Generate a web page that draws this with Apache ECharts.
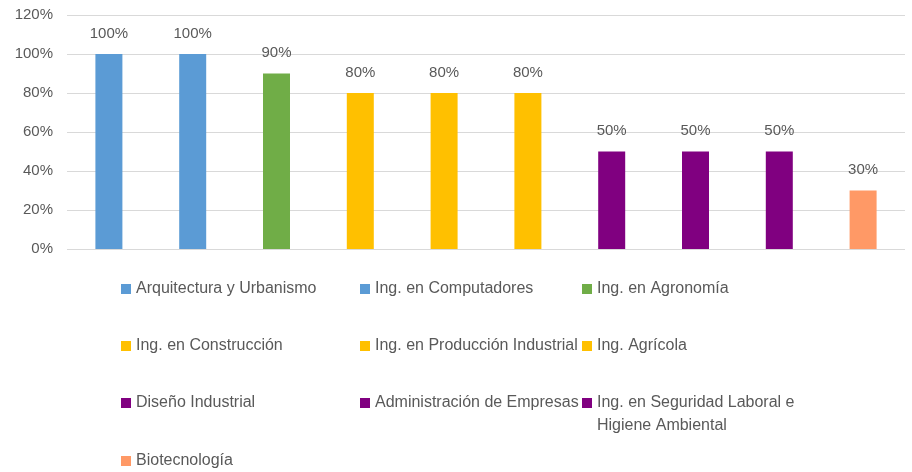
<!DOCTYPE html>
<html>
<head>
<meta charset="utf-8">
<script src="https://cdn.jsdelivr.net/npm/echarts@6/dist/echarts.min.js"></script>
<style>
  html, body { margin: 0; padding: 0; background: #fff; }
  #chart { width: 912px; height: 472px; }
</style>
</head>
<body>
<div id="chart"></div>
<script>
// datos del gráfico
var careers = [
  'Arquitectura y Urbanismo', 'Ing. en Computadores', 'Ing. en Agronomía',
  'Ing. en Construcción', 'Ing. en Producción Industrial', 'Ing. Agrícola',
  'Diseño Industrial', 'Administración de Empresas',
  'Ing. en Seguridad Laboral e Higiene Ambiental', 'Biotecnología'
];
var percents = [100, 100, 90, 80, 80, 80, 50, 50, 50, 30];
var barColors = ['#5B9BD5', '#5B9BD5', '#70AD47', '#FFC000', '#FFC000', '#FFC000',
                 '#800080', '#800080', '#800080', '#FF9966'];
var yTicks = { min: 0, max: 120, step: 20 };

var textColor = '#595959';
var fontFam = 'Liberation Sans, Arial, sans-serif';

// posiciones de la leyenda (3 columnas)
var legendCols = [121, 360, 582];
var legendRows = [279, 336, 393, 451];

var chart = echarts.init(document.getElementById('chart'));

var series = careers.map(function (name, i) {
  var data = careers.map(function (c, j) { return j === i ? percents[i] : '-'; });
  return {
    name: name,
    type: 'bar',
    stack: 'all',
    barWidth: 27,
    itemStyle: { color: barColors[i] },
    label: {
      show: true,
      position: 'top',
      distance: 13,
      formatter: '{c}%',
      color: textColor,
      fontSize: 15,
      fontFamily: fontFam
    },
    data: data
  };
});

var legends = careers.map(function (name, i) {
  var lg = {
    data: [name],
    left: legendCols[i % 3],
    top: legendRows[Math.floor(i / 3)],
    icon: 'rect',
    itemWidth: 10,
    itemHeight: 10,
    itemGap: 0,
    padding: 0,
    selectedMode: false,
    textStyle: { color: textColor, fontSize: 16, fontFamily: fontFam, lineHeight: 20 }
  };
  if (name.indexOf('Seguridad') >= 0) {
    lg.formatter = function () { return '\nIng. en Seguridad Laboral e\nHigiene Ambiental'; };
    lg.textStyle.lineHeight = 23;
    lg.top = 403 - 34.5;
  }
  return lg;
});

chart.setOption({
  animation: false,
  grid: { left: 67, right: 7, top: 15, bottom: 223 },
  legend: legends,
  xAxis: {
    type: 'category',
    data: careers,
    axisLine: { show: false },
    axisTick: { show: false },
    axisLabel: { show: false }
  },
  yAxis: {
    type: 'value',
    min: yTicks.min,
    max: yTicks.max,
    interval: yTicks.step,
    axisLabel: {
      formatter: '{value}%',
      color: textColor,
      fontSize: 15,
      fontFamily: fontFam,
      margin: 14
    },
    splitLine: { lineStyle: { color: '#D9D9D9', width: 1 } }
  },
  series: series
});
</script>
</body>
</html>
